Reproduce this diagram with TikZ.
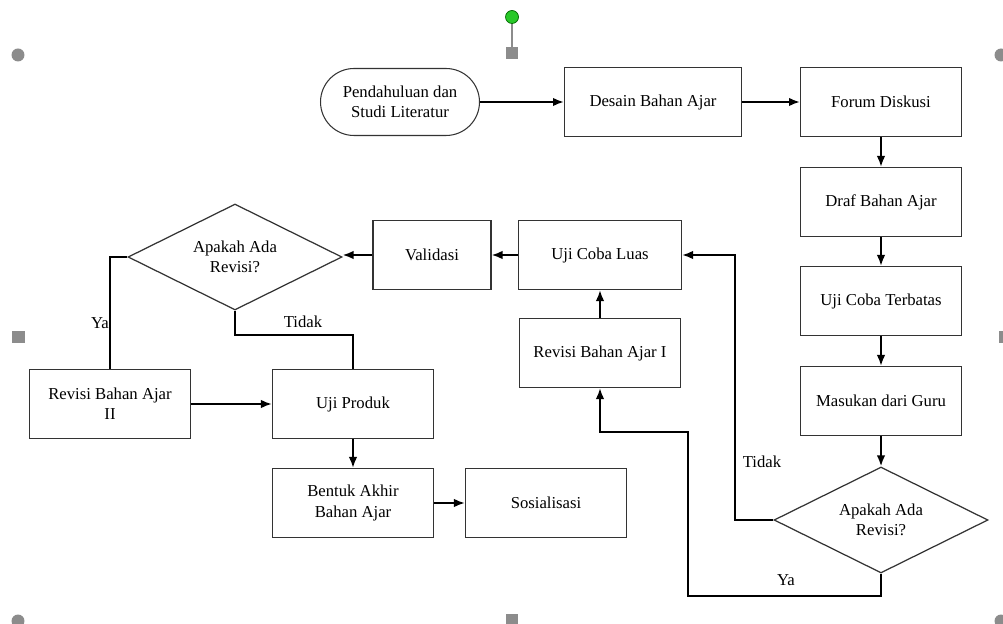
\documentclass[tikz,border=0pt]{standalone}
\usepackage{fontspec}
\setmainfont{Liberation Serif}
\usetikzlibrary{arrows.meta}
\usetikzlibrary{shapes.geometric}
\tikzset{>={Latex[length=2.2mm,width=1.7mm]}}
\definecolor{handlegray}{RGB}{140,140,140}
\definecolor{handlegreen}{RGB}{40,200,40}
\tikzstyle{box}=[draw=black!80,line width=0.6pt,minimum width=3.22cm,minimum height=1.38cm,align=center,inner sep=2pt,font=\fontsize{9.5}{11.5}\selectfont]
\tikzstyle{term}=[box,rounded corners=0.67cm,minimum width=3.18cm,minimum height=1.34cm]
\tikzstyle{decision}=[diamond,aspect=2,draw=black!80,line width=0.7pt,minimum width=4.28cm,minimum height=2.12cm,align=center,inner sep=0pt,font=\fontsize{9.5}{11.5}\selectfont]
\tikzstyle{flow}=[draw,line width=1.1pt,->]
\tikzstyle{link}=[draw,line width=1.1pt]
\tikzstyle{tag}=[font=\fontsize{9.5}{11.5}\selectfont]
\tikzstyle{handle}=[fill=handlegray]

\begin{document}
\begin{tikzpicture}[x=0.02cm,y=-0.02cm]
    \useasboundingbox (0,0) rectangle (1003,624);

    % upper row and right column
    \node[term] (start) at (400,102) {Pendahuluan dan\\Studi Literatur};
    \node[box,minimum width=3.54cm] (desain) at (653,102) {Desain Bahan Ajar};
    \node[box] (forum) at (881,102) {Forum Diskusi};
    \node[box] (draf) at (881,202) {Draf Bahan Ajar};
    \node[box] (terbatas) at (881,301) {Uji Coba Terbatas};
    \node[box] (masukan) at (881,401) {Masukan dari Guru};
    \node[decision] (cek1) at (881,520) {Apakah Ada\\Revisi?};

    % middle
    \node[box,minimum width=3.26cm] (luas) at (600,255) {Uji Coba Luas};
    \node[box] (revisi1) at (600,353) {Revisi Bahan Ajar I};
    \node[box,minimum width=2.36cm] (validasi) at (432,255) {Validasi};

    % left part
    \node[decision] (cek2) at (235,257) {Apakah Ada\\Revisi?};
    \node[box] (revisi2) at (110,404) {Revisi Bahan Ajar\\II};
    \node[box] (produk) at (353,404) {Uji Produk};
    \node[box] (akhir) at (353,503) {Bentuk Akhir\\Bahan Ajar};
    \node[box] (sosial) at (546,503) {Sosialisasi};

    \draw[flow] (start) -- (desain);
    \draw[flow] (desain) -- (forum);
    \draw[flow] (forum) -- (draf);
    \draw[flow] (draf) -- (terbatas);
    \draw[flow] (terbatas) -- (masukan);
    \draw[flow] (masukan) -- (cek1.north);

    \draw[flow] (cek1.west) -- ++(-38,0) |- (luas.east);
    \node[tag] (tidak1) at (762,462) {Tidak};
    \draw[flow] (cek1.south) -- ++(0,22) -| (688,432) -| (revisi1.south);
    \node[tag] (ya1) at (786,580) {Ya};

    \draw[flow] (revisi1) -- (luas);
    \draw[flow] (luas) -- (validasi);
    \draw[flow] (validasi.west) -- (validasi.west -| cek2.east);

    \draw[link] (revisi2.north) |- (cek2.west);
    \node[tag] (ya2) at (100,323) {Ya};
    \draw[link] (cek2.south) -- ++(0,24) -| (produk.north);
    \node[tag] (tidak2) at (303,322) {Tidak};

    \draw[flow] (revisi2) -- (produk);
    \draw[flow] (produk) -- (akhir);
    \draw[flow] (akhir) -- (sosial);

    % selection handles
    \draw[handlegray,line width=0.8pt] (512,18) -- (512,48);
    \fill[handlegreen,draw=green!40!black,line width=0.4pt] (512,17) circle (0.13cm);
    \fill[handle] (506,47) rectangle (518,59);
    \fill[handle] (18,55) circle (0.13cm);
    \fill[handle] (1001,55) circle (0.13cm);
    \fill[handle] (12,331) rectangle (25,343);
    \fill[handle] (999,331) rectangle (1012,343);
    \fill[handle] (18,621) circle (0.13cm);
    \fill[handle] (506,614) rectangle (518,626);
    \fill[handle] (1001,621) circle (0.13cm);
\end{tikzpicture}
\end{document}
